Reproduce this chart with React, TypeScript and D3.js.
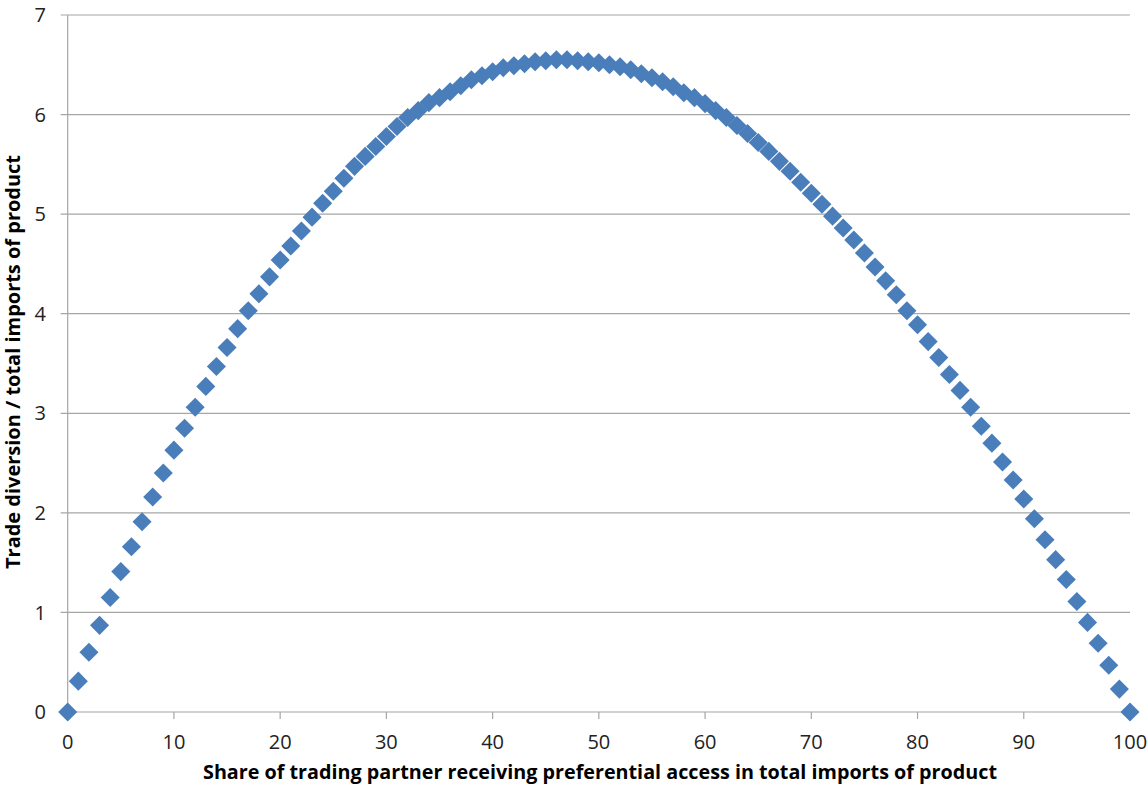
import React from "react";
import * as d3 from "d3";

const xValues: number[] = Array.from({ length: 101 }, (_, i) => i);
const yValues: number[] = [
  0, 0.31, 0.6, 0.87, 1.15, 1.41, 1.66, 1.91, 2.16, 2.4,
  2.63, 2.85, 3.06, 3.27, 3.47, 3.66, 3.85, 4.03, 4.2, 4.37,
  4.54, 4.68, 4.83, 4.97, 5.11, 5.23, 5.36, 5.48, 5.58, 5.68,
  5.78, 5.88, 5.97, 6.04, 6.12, 6.17, 6.23, 6.29, 6.35, 6.39,
  6.43, 6.47, 6.49, 6.51, 6.53, 6.54, 6.55, 6.55, 6.54, 6.53,
  6.52, 6.5, 6.48, 6.45, 6.41, 6.37, 6.33, 6.28, 6.22, 6.17,
  6.11, 6.04, 5.97, 5.89, 5.81, 5.72, 5.63, 5.53, 5.43, 5.32,
  5.21, 5.1, 4.98, 4.86, 4.74, 4.61, 4.47, 4.33, 4.19, 4.03,
  3.89, 3.72, 3.56, 3.39, 3.23, 3.06, 2.87, 2.7, 2.51, 2.33,
  2.14, 1.94, 1.73, 1.53, 1.33, 1.11, 0.9, 0.69, 0.47, 0.23,
  0,
];
const xTicks: number[] = [0, 10, 20, 30, 40, 50, 60, 70, 80, 90, 100];
const yTicks: number[] = [0, 1, 2, 3, 4, 5, 6, 7];
const xTitle = "Share of trading partner receiving preferential access in total imports of product";
const yTitle = "Trade diversion / total imports of product";

const W = 1148;
const H = 791;
const L = 67.7;
const R = 1130;
const T = 15;
const B = 712;

export default function App() {
  const x = d3.scaleLinear().domain([0, 100]).range([L, R]);
  const y = d3.scaleLinear().domain([0, 7]).range([B, T]);
  const diamond = d3.symbol().type(d3.symbolSquare).size(182)();
  const grid = "#a6a6a6";
  const font = "'Open Sans', 'Noto Sans', sans-serif";
  return (
    <svg
      width={W}
      height={H}
      style={{ position: "absolute", left: 0, top: 0, background: "#fff" }}
    >
      <rect x={0} y={0} width={W} height={H} fill="#fff" />
      {yTicks.map((t) => (
        <line key={"g" + t} x1={L - 7} x2={R} y1={y(t)} y2={y(t)} stroke={grid} strokeWidth={1.2} />
      ))}
      <line x1={L} x2={L} y1={T} y2={B} stroke={grid} strokeWidth={1.2} />
      {xTicks.map((t) => (
        <line key={"xt" + t} x1={x(t)} x2={x(t)} y1={B} y2={B + 7} stroke={grid} strokeWidth={1.2} />
      ))}
      {yTicks.map((t) => (
        <text
          key={"yl" + t}
          x={46}
          y={y(t)}
          dy="0.36em"
          textAnchor="end"
          fontFamily={font}
          fontSize={20}
          fill="#222"
        >
          {t}
        </text>
      ))}
      {xTicks.map((t) => (
        <text
          key={"xl" + t}
          x={x(t)}
          y={749}
          textAnchor="middle"
          fontFamily={font}
          fontSize={20}
          fill="#222"
        >
          {t}
        </text>
      ))}
      {xValues.map((v, i) => (
        <path
          key={"p" + i}
          d={diamond || ""}
          transform={`translate(${x(v)},${y(yValues[i])}) rotate(45)`}
          fill="#4A7EBB"
        />
      ))}
      <text
        x={600}
        y={779}
        textAnchor="middle"
        fontFamily={font}
        fontWeight="bold"
        fontSize={19}
        textLength={794}
        lengthAdjust="spacingAndGlyphs"
        fill="#000"
      >
        {xTitle}
      </text>
      <text
        transform={`translate(20,${362}) rotate(-90)`}
        textAnchor="middle"
        fontFamily={font}
        fontWeight="bold"
        fontSize={19}
        textLength={414}
        lengthAdjust="spacingAndGlyphs"
        fill="#000"
      >
        {yTitle}
      </text>
    </svg>
  );
}
